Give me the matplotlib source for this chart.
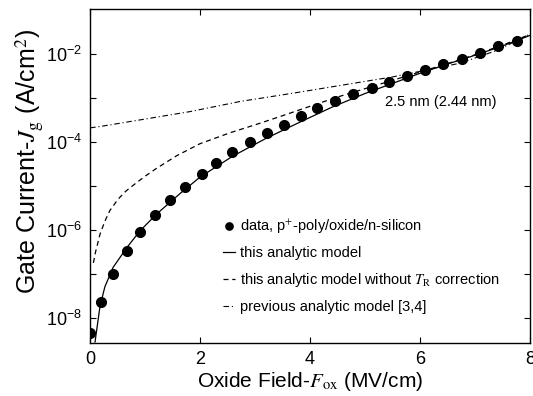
import numpy as np
import matplotlib
matplotlib.use('Agg')
import matplotlib.pyplot as plt
from matplotlib.ticker import FixedLocator, NullLocator

plt.rcParams['font.family'] = ['Liberation Sans', 'DejaVu Sans']
plt.rcParams['mathtext.fontset'] = 'stix'
# sans math for the tick labels only
plt.rcParams['mathtext.rm'] = 'Liberation Sans'
plt.rcParams['mathtext.it'] = 'Liberation Sans:italic'
plt.rcParams['mathtext.bf'] = 'Liberation Sans:bold'

# measured gate current (log10 of A/cm^2) vs oxide field (MV/cm)
data_f = [0.0, 0.19, 0.41, 0.67, 0.91, 1.18, 1.45, 1.73, 2.03, 2.30, 2.59, 2.91,
          3.22, 3.53, 3.83, 4.13, 4.46, 4.79, 5.12, 5.44, 5.77, 6.10, 6.42, 6.76,
          7.09, 7.42, 7.76]
data_logj = [-8.34, -7.63, -7.01, -6.49, -6.04, -5.66, -5.32, -5.02, -4.73, -4.48,
             -4.24, -4.01, -3.80, -3.61, -3.42, -3.23, -3.08, -2.92, -2.78, -2.63,
             -2.50, -2.36, -2.23, -2.11, -1.97, -1.83, -1.70]

# this analytic model
model_f = [0.09, 0.18, 0.27, 0.42, 0.67, 0.91, 1.21, 1.64, 2.0, 2.6, 3.2, 3.8,
           4.4, 5.0, 5.5, 6.0, 6.5, 7.0, 7.5, 8.0]
model_logj = [-8.55, -7.74, -7.29, -6.85, -6.40, -6.02, -5.64, -5.17, -4.80, -4.32,
              -3.92, -3.56, -3.21, -2.90, -2.67, -2.44, -2.23, -2.03, -1.82, -1.58]

# this analytic model without T_R correction
notr_f = [0.06, 0.10, 0.18, 0.27, 0.36, 0.51, 0.65, 0.79, 1.0, 1.21, 1.58, 2.0,
          2.55, 3.03, 3.51, 4.0, 4.5, 5.0, 5.5, 6.0, 6.5, 7.0, 7.5, 8.0]
notr_logj = [-6.75, -6.50, -6.10, -5.80, -5.56, -5.30, -5.12, -4.98, -4.78, -4.60,
             -4.31, -4.04, -3.79, -3.60, -3.40, -3.19, -2.98, -2.79, -2.60, -2.41,
             -2.22, -2.02, -1.80, -1.56]

# previous analytic model [3,4]
prev_f = [0.0, 0.18, 1.82, 2.73, 3.70, 5.51, 6.73, 7.4, 8.0]
prev_logj = [-3.68, -3.65, -3.31, -3.08, -2.89, -2.52, -2.21, -1.92, -1.55]

fig = plt.figure(figsize=(5.33, 3.96), dpi=100)
ax = fig.add_axes([0.169, 0.134, 0.825, 0.843])

ax.plot(data_f, 10.0 ** np.array(data_logj), 'o', color='black', ms=7,
        label=r'data, p$^{+}$-poly/oxide/n-silicon')
ax.plot(model_f, 10.0 ** np.array(model_logj), '-', color='black', lw=0.9,
        label='this analytic model')
ax.plot(notr_f, 10.0 ** np.array(notr_logj), color='black', lw=0.9,
        dashes=(4, 3), label=r'this analytic model without $T_{\mathrm{R}}$ correction')
ax.plot(prev_f, 10.0 ** np.array(prev_logj), color='black', lw=0.8,
        dashes=(5, 2.5, 1, 2.5), label='previous analytic model [3,4]')

ax.set_yscale('log')
ax.set_xlim(0, 8)
ax.set_ylim(10 ** -8.57, 10 ** -0.98)
ax.xaxis.set_major_locator(FixedLocator([0, 2, 4, 6, 8]))
ax.set_yticks([1e-8, 1e-7, 1e-6, 1e-5, 1e-4, 1e-3, 1e-2])
ax.set_yticklabels([r'$10^{-8}$', '', r'$10^{-6}$', '', r'$10^{-4}$', '', r'$10^{-2}$'])
ax.yaxis.set_minor_locator(NullLocator())
ax.tick_params(direction='in', top=True, right=True, length=4, width=0.8,
               labelsize=13, pad=6)
for lab in ax.get_yticklabels():
    lab.set_math_fontfamily('custom')
for s in ax.spines.values():
    s.set_linewidth(1.0)

ax.set_xlabel(r'Oxide Field-$F_{\mathrm{ox}}$ (MV/cm)', fontsize=15, labelpad=1)
ax.set_ylabel(r'Gate Current-$J_{\mathrm{g}}$ (A/cm$^{2}$)', fontsize=18)
ax.yaxis.set_label_coords(-0.102, 0.545)

ax.text(5.36, 10 ** -3.09, '2.5 nm (2.44 nm)', fontsize=10.5, ha='left', va='center')

ax.legend(loc='upper left', bbox_to_anchor=(0.302, 0.376), frameon=False,
          fontsize=10.5, handlelength=0.85, handletextpad=0.35, labelspacing=0.74,
          borderpad=0, borderaxespad=0, markerscale=0.75)

fig.savefig('out.png', dpi=100)
